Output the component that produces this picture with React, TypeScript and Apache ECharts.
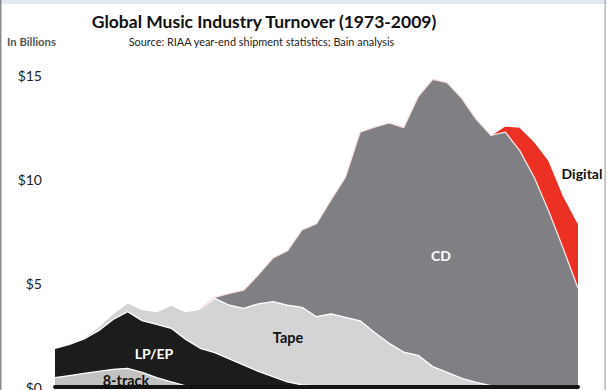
import React, { useEffect, useRef } from "react";
import * as echarts from "echarts";

const years = [
  "1973","1974","1975","1976","1977","1978","1979","1980","1981","1982",
  "1983","1984","1985","1986","1987","1988","1989","1990","1991","1992",
  "1993","1994","1995","1996","1997","1998","1999","2000","2001","2002",
  "2003","2004","2005","2006","2007","2008","2009",
];

const eightTrack = [
  0.45, 0.55, 0.65, 0.75, 0.85, 0.9, 0.7, 0.45, 0.25, 0.05,
  0, 0, 0, 0, 0, 0, 0, 0, 0, 0,
  0, 0, 0, 0, 0, 0, 0, 0, 0, 0,
  0, 0, 0, 0, 0, 0, 0,
];

const lpEp = [
  1.41, 1.5, 1.66, 1.96, 2.4, 2.72, 2.49, 2.56, 2.57, 2.24,
  1.86, 1.65, 1.35, 1.05, 0.75, 0.5, 0.25, 0.1, 0.05, 0.03,
  0.02, 0, 0, 0, 0, 0, 0, 0, 0, 0,
  0, 0, 0, 0, 0, 0, 0,
];

const tape = [
  0.05, 0.07, 0.08, 0.19, 0.29, 0.43, 0.54, 0.61, 1.12, 1.33,
  1.89, 2.61, 2.58, 2.73, 3.25, 3.6, 3.68, 3.73, 3.33, 3.48,
  3.33, 3.18, 2.62, 2.1, 1.68, 1.52, 0.98, 0.7, 0.41, 0.22,
  0.06, 0.02, 0, 0, 0, 0, 0,
];

const cd = [
  null, null, null, null, null, null, null, null, null, null,
  0, 0.05, 0.57, 0.88, 1.4, 2.1, 2.62, 3.72, 4.47, 5.49,
  6.75, 9.07, 9.87, 10.6, 10.79, 12.44, 13.81, 13.93, 13.47, 12.65,
  12.04, 12.23, 11.35, 10.06, 8.43, 6.62, 4.75,
];

const digital = [
  null, null, null, null, null, null, null, null, null, null,
  null, null, null, null, null, null, null, null, null, null,
  null, null, null, null, null, null, null, null, null, null,
  0, 0.31, 1.14, 1.74, 2.45, 2.56, 3.12,
];

const yTicks = [0, 5, 10, 15];

const FONT = "Lato, 'Open Sans', sans-serif";

export default function App() {
  const ref = useRef<HTMLDivElement>(null);

  useEffect(() => {
    if (!ref.current) return;
    const chart = echarts.init(ref.current, null, { renderer: "svg" });

    const mk = (name: string, data: (number | null)[], color: string, lineColor = "#ffffff") => ({
      name,
      type: "line",
      stack: "total",
      data,
      symbol: "none",
      smooth: false,
      lineStyle: { color: lineColor, width: 1.3 },
      areaStyle: { color, opacity: 1 },
      itemStyle: { color },
      emphasis: { disabled: true },
    });

    const label = (text: string, x: number, y: number, fill: string, size: number) => ({
      type: "text",
      x,
      y,
      z: 100,
      style: {
        text,
        fill,
        font: `bold ${size}px ${FONT}`,
        fontSize: size,
        fontWeight: "bold",
        fontFamily: FONT,
        textAlign: "center",
        textVerticalAlign: "middle",
        align: "center",
        verticalAlign: "middle",
      },
    });

    chart.setOption({
      animation: false,
      backgroundColor: "#ffffff",
      grid: { left: 55, right: 29, top: 75, bottom: 13, containLabel: false },
      xAxis: {
        type: "category",
        data: years,
        boundaryGap: false,
        z: 10,
        offset: 2.5,
        axisLine: { show: true, lineStyle: { color: "#141414", width: 4 } },
        axisTick: { show: false },
        axisLabel: { show: false },
        splitLine: { show: false },
      },
      yAxis: {
        type: "value",
        min: yTicks[0],
        max: yTicks[yTicks.length - 1],
        interval: 5,
        axisLine: { show: false },
        axisTick: { show: false },
        splitLine: { show: false },
        axisLabel: {
          formatter: (v: number) => "$" + v,
          color: "#222222",
          fontSize: 14,
          fontFamily: FONT,
          margin: 13,
        },
      },
      series: [
        mk("8-track", eightTrack, "#c2c2c2"),
        mk("LP/EP", lpEp, "#1c1c1c"),
        mk("Tape", tape, "#d4d4d6"),
        mk("CD", cd, "#7f7f84", "#f6e2df"),
        mk("Digital", digital, "#ec3124"),
      ],
      graphic: [
        { type: "rect", shape: { x: 0, y: 0, width: 607, height: 4 }, style: { fill: "#e3e9ef" }, z: 100 },
        { type: "rect", shape: { x: 0, y: 0, width: 1.5, height: 400 }, style: { fill: "#8a8a8a" }, z: 100 },
        { type: "rect", shape: { x: 604.5, y: 0, width: 1.2, height: 400 }, style: { fill: "#a8a8a8" }, z: 100 },
        {
          type: "text",
          x: 264,
          y: 21,
          z: 100,
          style: {
            text: "Global Music Industry Turnover (1973-2009)",
            fill: "#111111",
            font: `bold 17.5px ${FONT}`,
            fontSize: 17.5,
            fontWeight: "bold",
            fontFamily: FONT,
            textAlign: "center",
            textVerticalAlign: "middle",
            align: "center",
            verticalAlign: "middle",
          },
        },
        {
          type: "text",
          x: 261.5,
          y: 41,
          z: 100,
          style: {
            text: "Source: RIAA year-end shipment statistics; Bain analysis",
            fill: "#222222",
            font: `10.9px ${FONT}`,
            fontSize: 10.9,
            fontFamily: FONT,
            textAlign: "center",
            textVerticalAlign: "middle",
            align: "center",
            verticalAlign: "middle",
          },
        },
        {
          type: "text",
          x: 7,
          y: 41,
          z: 100,
          style: {
            text: "In Billions",
            fill: "#555555",
            font: `bold 11.3px ${FONT}`,
            fontSize: 11.3,
            fontWeight: "bold",
            fontFamily: FONT,
            textAlign: "left",
            textVerticalAlign: "middle",
            align: "left",
            verticalAlign: "middle",
          },
        },
        label("CD", 441, 255, "#ffffff", 14),
        label("Tape", 288, 337, "#111111", 14.5),
        label("LP/EP", 154, 353, "#ffffff", 14),
        label("8-track", 126, 380.5, "#111111", 14.5),
        label("Digital", 582, 173, "#111111", 14),
      ],
    });

    return () => chart.dispose();
  }, []);

  return (
    <div
      ref={ref}
      style={{ position: "absolute", left: 0, top: 0, width: 607, height: 400, background: "#fff" }}
    />
  );
}
